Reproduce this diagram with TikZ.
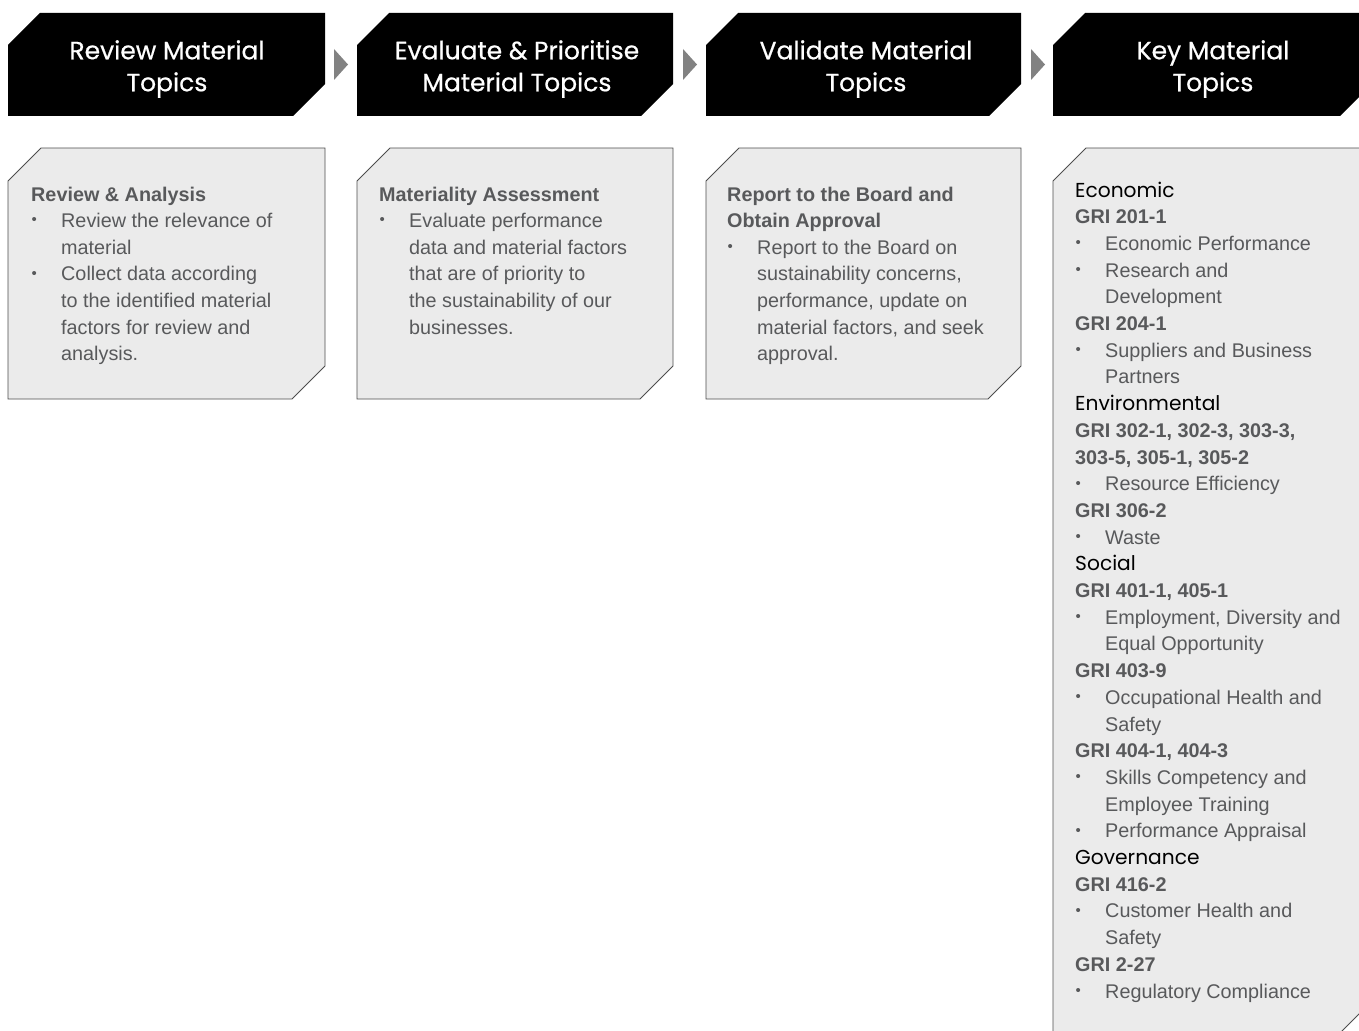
\documentclass[tikz,border=0pt]{standalone}
\usepackage{fontspec}
\setmainfont{Liberation Sans}
\newfontfamily\headfont{Poppins}
\newfontfamily\headfontb[FakeBold=0.6]{Poppins}
\definecolor{bodygray}{HTML}{58595B}
\definecolor{boxfill}{HTML}{EBEBEB}
\definecolor{boxline}{HTML}{4D4D4D}
\definecolor{arrowgray}{HTML}{828282}
\newcommand\bl[1]{\makebox[30pt][l]{\hspace*{0.5pt}\raisebox{0.25ex}{\fontsize{15}{15}\selectfont\textbullet}}#1}
\newcommand\cont[1]{\hspace*{30pt}#1}
\newcommand\cat[1]{\leavevmode{\headfont\color{black}\fontsize{20.2}{26.6}\selectfont #1}}
\newcommand\bodyfont{\fontsize{19.8}{26.6}\selectfont}
\tikzset{
  headbox/.style={fill=black},
  contbox/.style={fill=boxfill, draw=boxline, line width=0.9pt},
  headtext/.style={text=white, font=\headfontb\fontsize{25}{32}\selectfont, align=center, inner sep=0},
  bodytext/.style={anchor=base west, inner sep=0, text=bodygray},
  flowarrow/.style={fill=arrowgray}
}
\newcommand\cutshape[6]{% style, x1,y1,x2,y2 ; cut #6
  \path[#1] (#2,#3+#6) -- (#2+#6,#3) -- (#4,#3) -- (#4,#5-#6) -- (#4-#6,#5) -- (#2,#5) -- cycle;}
\begin{document}
\begin{tikzpicture}[x=1pt,y=-1pt]
\useasboundingbox (0,0) rectangle (1359,1030);
\begin{scope}
\clip (0,0) rectangle (1359,1030);
% header boxes
\cutshape{headbox}{8}{13}{325}{116}{32}
\cutshape{headbox}{357}{13}{673}{116}{32}
\cutshape{headbox}{706}{13}{1021}{116}{32}
\cutshape{headbox}{1053}{13}{1372}{116}{32}
% arrows
\fill[flowarrow] (334,49) -- (348,64.5) -- (334,80) -- cycle;
\fill[flowarrow] (683,49) -- (697,64.5) -- (683,80) -- cycle;
\fill[flowarrow] (1031,49) -- (1045,64.5) -- (1031,80) -- cycle;
% content boxes
\cutshape{contbox}{8}{148}{325}{399}{33}
\cutshape{contbox}{357}{148}{673}{399}{33}
\cutshape{contbox}{706}{148}{1021}{399}{33}
\cutshape{contbox}{1053}{148}{1372}{1034}{33}
\end{scope}
% header texts
\node[headtext] (h1) at (167,69) {Review Material\\Topics};
\node[headtext] (h2) at (517,69) {Evaluate \& Prioritise\\Material Topics};
\node[headtext] (h3) at (866,69) {Validate Material\\Topics};
\node[headtext] (h4) at (1213,69) {Key Material\\Topics};
% body texts
\node[bodytext] (t1) at (31,201) {\parbox[t]{300pt}{\bodyfont
\textbf{Review \& Analysis}\\
\bl{Review the relevance of}\\
\cont{material}\\
\bl{Collect data according}\\
\cont{to the identified material}\\
\cont{factors for review and}\\
\cont{analysis.}}};
\node[bodytext] (t2) at (379,201) {\parbox[t]{300pt}{\bodyfont
\textbf{Materiality Assessment}\\
\bl{Evaluate performance}\\
\cont{data and material factors}\\
\cont{that are of priority to}\\
\cont{the sustainability of our}\\
\cont{businesses.}}};
\node[bodytext] (t3) at (727,201) {\parbox[t]{300pt}{\bodyfont
\textbf{Report to the Board and}\\
\textbf{Obtain Approval}\\
\bl{Report to the Board on}\\
\cont{sustainability concerns,}\\
\cont{performance, update on}\\
\cont{material factors, and seek}\\
\cont{approval.}}};
\node[bodytext] (t4) at (1075,197) {\parbox[t]{300pt}{\fontsize{19.8}{26.7}\selectfont
\cat{Economic}\\
\textbf{GRI 201-1}\\
\bl{Economic Performance}\\
\bl{Research and}\\
\cont{Development}\\
\textbf{GRI 204-1}\\
\bl{Suppliers and Business}\\
\cont{Partners}\\
\cat{Environmental}\\
\textbf{GRI 302-1, 302-3, 303-3,}\\
\textbf{303-5, 305-1, 305-2}\\
\bl{Resource Efficiency}\\
\textbf{GRI 306-2}\\
\bl{Waste}\\
\cat{Social}\\
\textbf{GRI 401-1, 405-1}\\
\bl{Employment, Diversity and}\\
\cont{Equal Opportunity}\\
\textbf{GRI 403-9}\\
\bl{Occupational Health and}\\
\cont{Safety}\\
\textbf{GRI 404-1, 404-3}\\
\bl{Skills Competency and}\\
\cont{Employee Training}\\
\bl{Performance Appraisal}\\
\cat{Governance}\\
\textbf{GRI 416-2}\\
\bl{Customer Health and}\\
\cont{Safety}\\
\textbf{GRI 2-27}\\
\bl{Regulatory Compliance}}};
\end{tikzpicture}
\end{document}
